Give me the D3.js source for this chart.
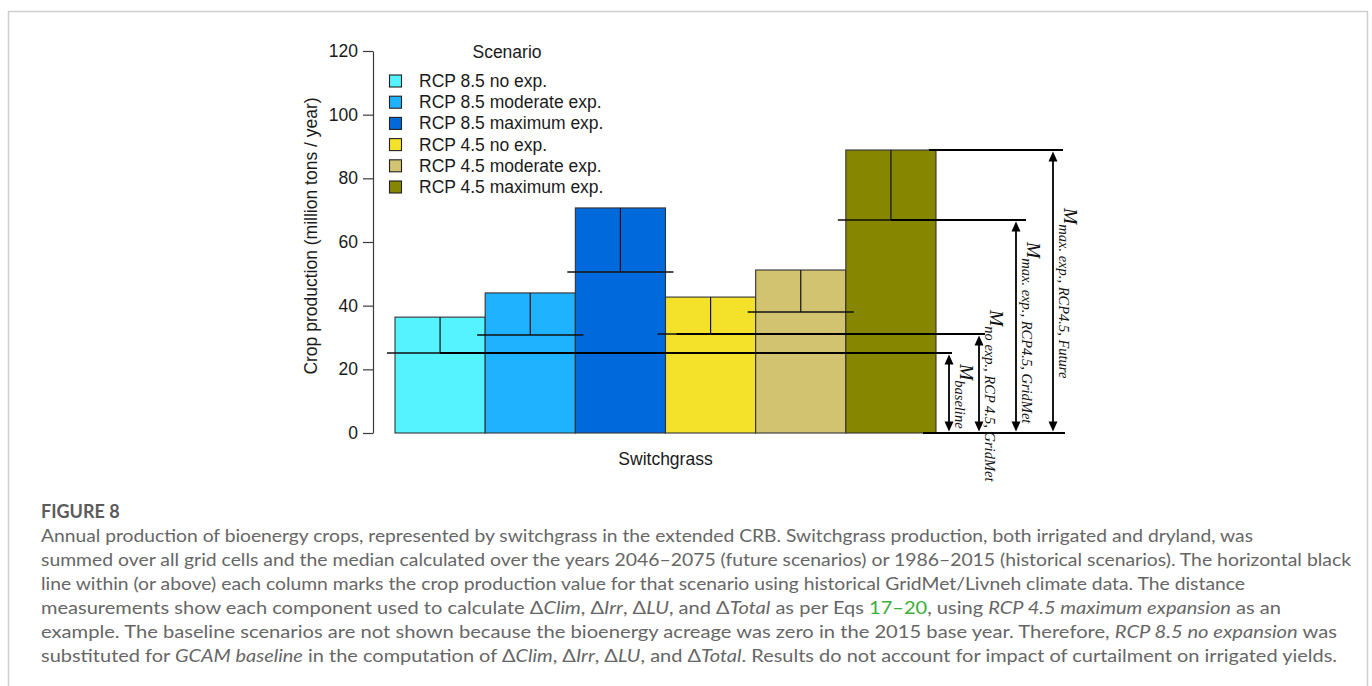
<!DOCTYPE html>
<html>
<head>
<meta charset="utf-8">
<script src="https://cdn.jsdelivr.net/npm/d3@7"></script>
<style>
  body { margin: 0; background: #fff; }
  svg { display: block; }
</style>
</head>
<body>
<svg id="fig" width="1372" height="686"></svg>
<script>
// Scenario columns (median annual switchgrass production, million tons / year)
const scenarios = [
  "RCP 8.5 no exp.",
  "RCP 8.5 moderate exp.",
  "RCP 8.5 maximum exp.",
  "RCP 4.5 no exp.",
  "RCP 4.5 moderate exp.",
  "RCP 4.5 maximum exp."
];
const futureProduction  = [36.4, 44.0, 70.7, 42.7, 51.2, 88.9];
const gridmetProduction = [25.1, 30.8, 50.6, 31.1, 38.0, 66.9];
const scenarioColors = ["#55f2ff", "#1fb3ff", "#0069db", "#f4e22a", "#d2c370", "#878600"];
const yTickValues = [0, 20, 40, 60, 80, 100, 120];
const cropName = "Switchgrass";
const yTitle = "Crop production (million tons / year)";
const legendTitle = "Scenario";

// Distance measurements used for the RCP 4.5 maximum expansion example
const measureSubscripts = ["baseline", "no exp., RCP 4.5, GridMet", "max. exp., RCP4.5, GridMet", "max. exp., RCP4.5, Future"];
const measureValues = [gridmetProduction[0], gridmetProduction[3], gridmetProduction[5], futureProduction[5]];

const captionTitle = "FIGURE 8";
// caption lines; each segment: [text, style] where style is "" | "i" (italic) | "g" (green link)
const captionLines = [
  [["Annual production of bioenergy crops, represented by switchgrass in the extended CRB. Switchgrass production, both irrigated and dryland, was", ""]],
  [["summed over all grid cells and the median calculated over the years 2046\u20132075 (future scenarios) or 1986\u20132015 (historical scenarios). The horizontal black", ""]],
  [["line within (or above) each column marks the crop production value for that scenario using historical GridMet/Livneh climate data. The distance", ""]],
  [["measurements show each component used to calculate \u0394", ""], ["Clim", "i"], [", \u0394", ""], ["Irr", "i"], [", \u0394", ""], ["LU", "i"], [", and \u0394", ""], ["Total", "i"], [" as per Eqs ", ""], ["17\u201320", "g"], [", using ", ""], ["RCP 4.5 maximum expansion", "i"], [" as an", ""]],
  [["example. The baseline scenarios are not shown because the bioenergy acreage was zero in the 2015 base year. Therefore, ", ""], ["RCP 8.5 no expansion", "i"], [" was", ""]],
  [["substituted for ", ""], ["GCAM baseline", "i"], [" in the computation of \u0394", ""], ["Clim", "i"], [", \u0394", ""], ["Irr", "i"], [", \u0394", ""], ["LU", "i"], [", and \u0394", ""], ["Total", "i"], [". Results do not account for impact of curtailment on irrigated yields.", ""]]
];
const captionLineEnds = [1253, 1351, 1245, 1281, 1337, 1337];

const svg = d3.select("#fig");
const chartFont = "'Liberation Sans', Arial, Helvetica, sans-serif";

// frame around the figure panel
svg.append("rect")
  .attr("x", 8.5).attr("y", 11.5)
  .attr("width", 1359).attr("height", 700)
  .attr("fill", "none").attr("stroke", "#cfcfcf").attr("stroke-width", 1.5);

// scales
const x = d3.scaleBand().domain(scenarios).range([395, 936]).paddingInner(0).paddingOuter(0);
const y = d3.scaleLinear().domain([0, 120]).range([433, 51]);
const bw = x.bandwidth();

// y axis
const yAxis = svg.append("g")
  .attr("transform", "translate(373,0)")
  .call(d3.axisLeft(y).tickValues(yTickValues).tickSize(10).tickSizeOuter(0).tickPadding(5));
yAxis.select(".domain").attr("stroke", "#3a3a3a").attr("stroke-width", 1.2);
yAxis.selectAll(".tick line").attr("stroke", "#3a3a3a").attr("stroke-width", 1.2);
yAxis.selectAll(".tick text")
  .attr("font-family", chartFont).attr("font-size", 17.5).attr("fill", "#1a1a1a");

svg.append("text")
  .attr("transform", "translate(317,236) rotate(-90)")
  .attr("text-anchor", "middle")
  .attr("font-family", chartFont).attr("font-size", 17.5).attr("fill", "#1a1a1a")
  .text(yTitle);

// bars
svg.append("g").selectAll("rect")
  .data(scenarios)
  .join("rect")
  .attr("x", d => x(d))
  .attr("y", (d, i) => y(futureProduction[i]))
  .attr("width", bw)
  .attr("height", (d, i) => y(0) - y(futureProduction[i]))
  .attr("fill", (d, i) => scenarioColors[i])
  .attr("stroke", "#333")
  .attr("stroke-width", 1.1);

// vertical marks from each column top down to its GridMet value
svg.append("g").selectAll("line")
  .data(scenarios)
  .join("line")
  .attr("x1", d => x(d) + bw / 2).attr("x2", d => x(d) + bw / 2)
  .attr("y1", (d, i) => y(futureProduction[i]))
  .attr("y2", (d, i) => y(gridmetProduction[i]))
  .attr("stroke", "#111").attr("stroke-width", 1.2);

// GridMet horizontal marks
svg.append("g").selectAll("line")
  .data(scenarios)
  .join("line")
  .attr("x1", d => x(d) - 8).attr("x2", d => x(d) + bw + 8)
  .attr("y1", (d, i) => y(gridmetProduction[i]))
  .attr("y2", (d, i) => y(gridmetProduction[i]))
  .attr("stroke", "#111").attr("stroke-width", 1.5);

// long reference lines feeding the distance measurements
const arrowX = [949, 979, 1016, 1053];
const refStarts = [x(scenarios[0]) + bw / 2, x(scenarios[3]) + 11, x(scenarios[5]) + bw / 2, x(scenarios[5]) + bw - 7];
const refEnds = [952, 985, 1026, 1063];
const refs = svg.append("g");
measureValues.forEach((v, i) => {
  refs.append("line")
    .attr("x1", refStarts[i]).attr("x2", refEnds[i])
    .attr("y1", y(v)).attr("y2", y(v))
    .attr("stroke", "#000").attr("stroke-width", 2);
});
refs.append("line")
  .attr("x1", 923).attr("x2", 1065)
  .attr("y1", y(0)).attr("y2", y(0))
  .attr("stroke", "#000").attr("stroke-width", 2);

// double-headed arrows
const head = 10, hw = 4.5;
measureValues.forEach((v, i) => {
  const ax = arrowX[i], top = y(v) + 1.5, bot = y(0) - 1.5;
  const g = refs.append("g");
  g.append("line")
    .attr("x1", ax).attr("x2", ax)
    .attr("y1", top + head - 1).attr("y2", bot - head + 1)
    .attr("stroke", "#000").attr("stroke-width", 1.8);
  g.append("path")
    .attr("d", `M${ax},${top} L${ax - hw},${top + head} L${ax + hw},${top + head} Z`)
    .attr("fill", "#000");
  g.append("path")
    .attr("d", `M${ax},${bot} L${ax - hw},${bot - head} L${ax + hw},${bot - head} Z`)
    .attr("fill", "#000");
});

// measurement labels, written top-to-bottom beside each arrow
const labelTop = [364, 310, 242, 208];
measureValues.forEach((v, i) => {
  const t = svg.append("text")
    .attr("transform", `translate(${arrowX[i] + 11},${labelTop[i]}) rotate(90)`)
    .attr("font-family", "'Liberation Serif', 'DejaVu Serif', serif")
    .attr("font-style", "italic")
    .attr("fill", "#111");
  t.append("tspan").attr("font-size", 19.5).text("M");
  t.append("tspan").attr("font-size", 14.5).attr("dy", 5).text(measureSubscripts[i]);
});

// category label
svg.append("text")
  .attr("x", (x.range()[0] + x.range()[1]) / 2).attr("y", 465)
  .attr("text-anchor", "middle")
  .attr("font-family", chartFont).attr("font-size", 17.5).attr("fill", "#1a1a1a")
  .text(cropName);

// legend
const legend = svg.append("g");
legend.append("text")
  .attr("x", 507).attr("y", 58)
  .attr("text-anchor", "middle")
  .attr("font-family", chartFont).attr("font-size", 17.5).attr("fill", "#1a1a1a")
  .text(legendTitle);
scenarios.forEach((s, i) => {
  const cy = 81 + i * 21.2;
  legend.append("rect")
    .attr("x", 389.5).attr("y", cy - 6).attr("width", 12).attr("height", 12)
    .attr("fill", scenarioColors[i]).attr("stroke", "#222").attr("stroke-width", 1.1);
  legend.append("text")
    .attr("x", 419).attr("y", cy + 6)
    .attr("font-family", chartFont).attr("font-size", 17.5).attr("fill", "#1a1a1a")
    .text(s);
});

// caption
const capFont = "Lato, 'Open Sans', sans-serif";
svg.append("text")
  .attr("x", 41).attr("y", 518)
  .attr("font-family", capFont).attr("font-size", 18).attr("font-weight", 700)
  .attr("fill", "#5b5b5b")
  .text(captionTitle);
captionLines.forEach((segs, li) => {
  const t = svg.append("text")
    .attr("x", 41).attr("y", 542 + li * 24)
    .attr("font-family", capFont).attr("font-size", 17.5)
    .attr("fill", "#666")
    .attr("textLength", captionLineEnds[li] - 41)
    .attr("lengthAdjust", "spacingAndGlyphs");
  segs.forEach(([txt, st]) => {
    const ts = t.append("tspan").text(txt);
    if (st === "i") ts.attr("font-style", "italic");
    if (st === "g") ts.attr("fill", "#3aae3a");
  });
});
</script>
</body>
</html>
